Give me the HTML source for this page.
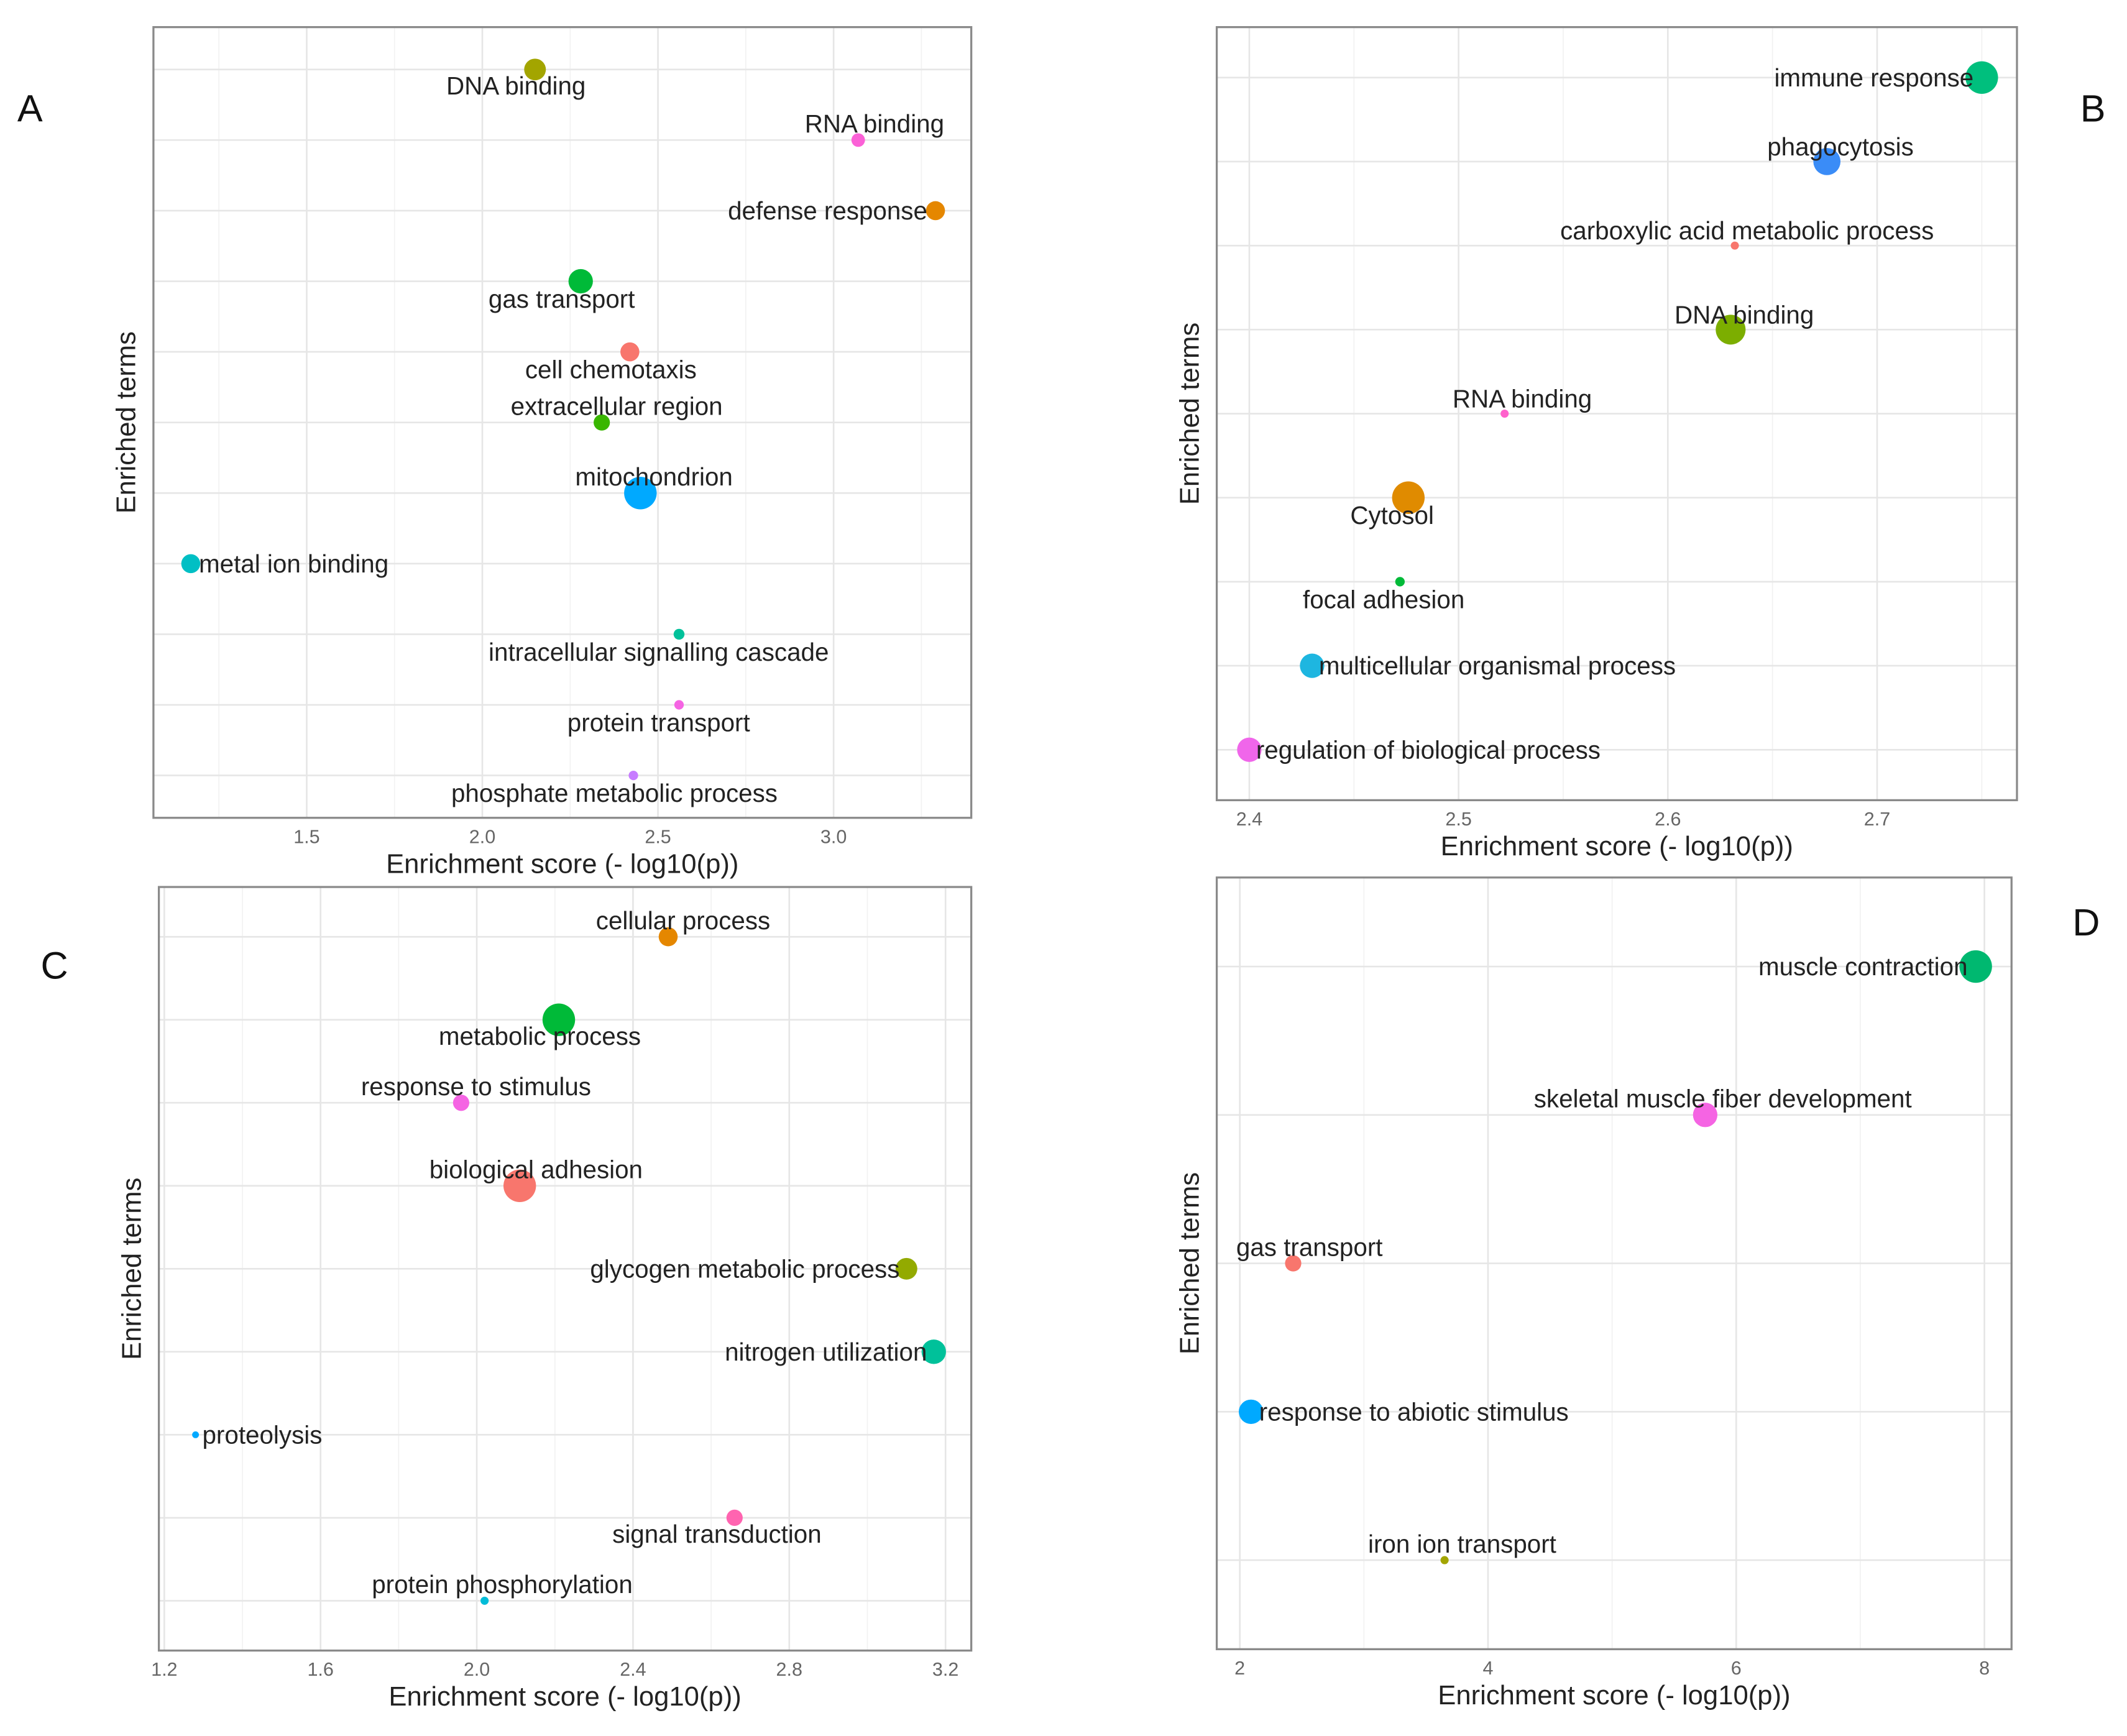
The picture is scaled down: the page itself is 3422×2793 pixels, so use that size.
<!DOCTYPE html>
<html><head><meta charset="utf-8"><style>
html,body{margin:0;padding:0;background:#fff;}
svg{display:block;}
text{font-family:"Liberation Sans",Arial,sans-serif;}
</style></head><body>
<svg id="fig" width="3422" height="2793" viewBox="0 0 1568 1280" xmlns="http://www.w3.org/2000/svg"></svg>
<script>
// ---- Panel A data ----
const aTerms = ["DNA binding","RNA binding","defense response","gas transport","cell chemotaxis","extracellular region","mitochondrion","metal ion binding","intracellular signalling cascade","protein transport","phosphate metabolic process"];
const aScores = [2.15,3.07,3.29,2.28,2.42,2.34,2.45,1.17,2.56,2.56,2.43];
const aSizes = [8,5,7,9,7,6,12,7,4,3.5,3.5];
const aColors = ["#a3a500","#fb61d7","#e58700","#00ba38","#f8766d","#39b600","#00a9ff","#00bfc4","#00c19a","#f564e3","#c77cff"];
const aLabelAnchor = ["middle","middle","end","middle","middle","middle","middle","start","middle","middle","middle"];
const aLabelDx = [-14,12,-6,-14,-14,11,10,6,-15,-15,-14];
const aLabelDy = [12,-12,0,13,13,-12,-12,0,13,13,13];
const aTicks = [1.5,2.0,2.5,3.0];
const aTickLabels = ["1.5","2.0","2.5","3.0"];

// ---- Panel B data ----
const bTerms = ["immune response","phagocytosis","carboxylic acid metabolic process","DNA binding","RNA binding","Cytosol","focal adhesion","multicellular organismal process","regulation of biological process"];
const bScores = [2.75,2.676,2.632,2.63,2.522,2.476,2.472,2.43,2.40];
const bSizes = [12,10,3,11,3,12,3.5,9,9];
const bColors = ["#00bf7d","#3a8cf7","#f8766d","#7cae00","#ff61cc","#e08b00","#00ba38","#1eb6e0","#f066ea"];
const bLabelAnchor = ["end","middle","middle","middle","middle","middle","middle","start","start"];
const bLabelDx = [-6,10,9,10,13,-12,-12,5,5];
const bLabelDy = [0,-11,-11,-11,-11,13,13,0,0];
const bTicks = [2.4,2.5,2.6,2.7];
const bTickLabels = ["2.4","2.5","2.6","2.7"];

// ---- Panel C data ----
const cTerms = ["cellular process","metabolic process","response to stimulus","biological adhesion","glycogen metabolic process","nitrogen utilization","proteolysis","signal transduction","protein phosphorylation"];
const cScores = [2.49,2.21,1.96,2.11,3.10,3.17,1.28,2.66,2.02];
const cSizes = [7,12,6,12,8,9,2.5,6,3];
const cColors = ["#e58700","#00ba38","#f564e3","#f8766d","#93aa00","#00c19a","#00a9ff","#ff64b0","#00bcd8"];
const cLabelAnchor = ["middle","middle","middle","middle","end","end","start","middle","middle"];
const cLabelDx = [11,-14,11,12,-5,-5,5,-13,13];
const cLabelDy = [-12,12,-12,-12,0,0,0,12,-12];
const cTicks = [1.2,1.6,2.0,2.4,2.8,3.2];
const cTickLabels = ["1.2","1.6","2.0","2.4","2.8","3.2"];

// ---- Panel D data ----
const dTerms = ["muscle contraction","skeletal muscle fiber development","gas transport","response to abiotic stimulus","iron ion transport"];
const dScores = [7.93,5.75,2.43,2.09,3.65];
const dSizes = [12,9,6,9,3];
const dColors = ["#00b870","#f564e3","#f8766d","#00a9ff","#a3a500"];
const dLabelAnchor = ["end","middle","middle","start","middle"];
const dLabelDx = [-6,13,12,6,13];
const dLabelDy = [0,-12,-12,0,-12];
const dTicks = [2,4,6,8];
const dTickLabels = ["2","4","6","8"];

const NS = "http://www.w3.org/2000/svg";
const svg = document.getElementById("fig");
function mk(tag, attrs, parent){
  const e = document.createElementNS(NS, tag);
  for (const k in attrs) e.setAttribute(k, attrs[k]);
  (parent||svg).appendChild(e);
  return e;
}

function drawPanel(id, box, xDom, terms, scores, sizes, colors, anchors, ldx, ldy, ticks, tickLabels, letter, letterPos){
  const g = mk("g", {});
  
  
  const xs = v => box.l + (v - xDom[0]) / (xDom[1] - xDom[0]) * (box.r - box.l);
  const n = terms.length;
  const step = (box.b - box.t) / (n - 1 + 1.2);
  const ys = i => box.t + (0.6 + i) * step;
  for (let i = 0; i < ticks.length + 1; i++) {
    const d = ticks[1] - ticks[0];
    const v = ticks[0] + (i - 0.5) * d;
    const x = xs(v);
    if (x > box.l && x < box.r) {
      const ln = mk("line", {x1:x, x2:x, y1:box.t, y2:box.b, stroke:"#f2f2f2", "stroke-width":0.8}, g);
      
      
    }
  }
  ticks.forEach((v, i) => {
    const x = xs(v);
    const ln = mk("line", {x1:x, x2:x, y1:box.t, y2:box.b, stroke:"#e6e6e6", "stroke-width":1.2}, g);
    
    
    const t = mk("text", {x:x, y:box.b + 14, "text-anchor":"middle", "font-size":14, fill:"#666", "dominant-baseline":"central"}, g);
    t.textContent = tickLabels[i];
    
    
  });
  for (let i = 0; i < n; i++) {
    const y = ys(i);
    const ln = mk("line", {x1:box.l, x2:box.r, y1:y, y2:y, stroke:"#e6e6e6", "stroke-width":1.2}, g);
    
    
  }
  const rect = mk("rect", {x:box.l, y:box.t, width:box.r - box.l, height:box.b - box.t, fill:"none", stroke:"#8a8a8a", "stroke-width":1.5}, g);
  
  
  for (let i = 0; i < n; i++) {
    const cx = xs(scores[i]), cy = ys(i);
    const c = mk("circle", {cx:cx, cy:cy, r:sizes[i], fill:colors[i]}, g);
    
    
    const t = mk("text", {x:cx + ldx[i], y:cy + ldy[i], "text-anchor":anchors[i], "font-size":18.5, fill:"#222", "dominant-baseline":"central"}, g);
    t.textContent = terms[i];
    
    
  }
  const xt = mk("text", {x:(box.l + box.r) / 2, y:box.b + 34, "text-anchor":"middle", "font-size":20, fill:"#222", "dominant-baseline":"central"}, g);
  xt.textContent = "Enrichment score (- log10(p))";
  
  
  const ycx = box.l - 20, ycy = (box.t + box.b) / 2;
  const yt = mk("text", {x:ycx, y:ycy, "text-anchor":"middle", "font-size":20, fill:"#222", "dominant-baseline":"central", transform:"rotate(-90 " + ycx + " " + ycy + ")"}, g);
  yt.textContent = "Enriched terms";
  
  
  const lt = mk("text", {x:letterPos[0], y:letterPos[1], "text-anchor":"middle", "font-size":28, fill:"#111", "dominant-baseline":"central"}, g);
  lt.textContent = letter;
  
  
}

drawPanel("a", {l:113, r:716, t:20, b:603}, [1.5 - 113/259, 1.5 + 490/259], aTerms, aScores, aSizes, aColors, aLabelAnchor, aLabelDx, aLabelDy, aTicks, aTickLabels, "A", [22, 80]);
drawPanel("b", {l:897, r:1487, t:20, b:590}, [2.4 - 24/1543, 2.4 + 566/1543], bTerms, bScores, bSizes, bColors, bLabelAnchor, bLabelDx, bLabelDy, bTicks, bTickLabels, "B", [1543, 80]);
drawPanel("c", {l:117, r:716, t:654, b:1217}, [1.2 - 4/288, 1.2 + 595/288], cTerms, cScores, cSizes, cColors, cLabelAnchor, cLabelDx, cLabelDy, cTicks, cTickLabels, "C", [40, 712]);
drawPanel("d", {l:897, r:1483, t:647, b:1216}, [2 - 17/91.5, 2 + 569/91.5], dTerms, dScores, dSizes, dColors, dLabelAnchor, dLabelDx, dLabelDy, dTicks, dTickLabels, "D", [1538, 680]);
</script>
</body></html>
